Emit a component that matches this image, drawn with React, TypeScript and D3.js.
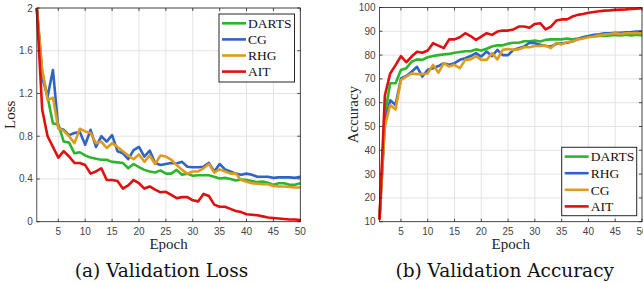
import { useRef, useEffect } from "react";
import * as d3 from "d3";

const epochs = d3.range(1, 51);

// validation loss (left panel)
const lossDARTS = [2.0, 1.4, 1.17, 0.92, 0.91, 0.75, 0.74, 0.64, 0.65, 0.62, 0.6, 0.59, 0.58, 0.58, 0.56, 0.555, 0.55, 0.5, 0.54, 0.51, 0.485, 0.47, 0.46, 0.48, 0.45, 0.45, 0.485, 0.44, 0.45, 0.43, 0.435, 0.435, 0.435, 0.42, 0.405, 0.41, 0.4, 0.385, 0.395, 0.39, 0.38, 0.37, 0.375, 0.365, 0.345, 0.36, 0.36, 0.345, 0.345, 0.36];
const lossCG = [2.0, 1.35, 1.17, 1.42, 0.875, 0.86, 0.81, 0.83, 0.84, 0.72, 0.86, 0.7, 0.8, 0.75, 0.81, 0.66, 0.64, 0.585, 0.67, 0.7, 0.61, 0.665, 0.55, 0.53, 0.54, 0.55, 0.545, 0.56, 0.515, 0.51, 0.51, 0.515, 0.55, 0.47, 0.54, 0.49, 0.47, 0.45, 0.44, 0.45, 0.44, 0.42, 0.42, 0.42, 0.41, 0.415, 0.415, 0.415, 0.41, 0.42];
const lossRHG = [2.0, 1.42, 1.14, 1.16, 0.875, 0.85, 0.8, 0.735, 0.87, 0.845, 0.83, 0.735, 0.75, 0.69, 0.735, 0.7, 0.66, 0.62, 0.585, 0.63, 0.56, 0.62, 0.54, 0.62, 0.61, 0.58, 0.53, 0.485, 0.45, 0.47, 0.47, 0.5, 0.54, 0.46, 0.49, 0.47, 0.45, 0.45, 0.39, 0.375, 0.36, 0.355, 0.35, 0.35, 0.335, 0.33, 0.33, 0.325, 0.32, 0.32];
const lossAIT = [2.0, 1.05, 0.8, 0.7, 0.6, 0.66, 0.61, 0.55, 0.55, 0.53, 0.45, 0.47, 0.5, 0.39, 0.39, 0.38, 0.31, 0.34, 0.39, 0.36, 0.31, 0.33, 0.3, 0.275, 0.28, 0.25, 0.22, 0.23, 0.23, 0.2, 0.19, 0.26, 0.24, 0.16, 0.14, 0.14, 0.12, 0.1, 0.09, 0.07, 0.065, 0.06, 0.05, 0.04, 0.035, 0.03, 0.025, 0.02, 0.02, 0.015];

// validation accuracy (right panel)
const accDARTS = [11, 55, 68.2, 68.2, 73.7, 74.5, 77.2, 78.2, 78, 79.1, 79.6, 80, 80.3, 80.5, 81, 81.3, 81.6, 81.6, 82.4, 81.9, 82.7, 83.6, 84.1, 84.1, 84.8, 85.2, 85.2, 85.8, 85.8, 86.1, 85.7, 86.4, 86.6, 86.6, 86.6, 87, 86.6, 87, 87.5, 87.8, 87.8, 88, 88, 88.3, 88.5, 88.3, 88.6, 88.3, 88.6, 88.3];
const accRHG = [11, 52, 61, 59, 70.2, 71.2, 73, 75.1, 71, 73.8, 74.5, 75.4, 76.6, 75.9, 76.6, 78, 78.7, 79.6, 80.8, 79.4, 81.5, 79.6, 82.2, 80, 80, 82.2, 82.9, 83.6, 85.2, 85, 84.3, 83.8, 83.6, 84.7, 85, 85.2, 85.7, 86.6, 87.5, 88, 88.5, 88.7, 89.2, 89.2, 89.4, 89.4, 89.6, 89.7, 89.9, 89.9];
const accCG = [11, 50, 59, 57.2, 69.5, 71, 72.3, 72, 72, 72.3, 75.9, 72.6, 76.6, 75.2, 75.9, 74.5, 78, 78.2, 79.6, 78, 78, 80.8, 78.2, 82.2, 82.6, 82.2, 82.4, 83.3, 83.3, 83.8, 83.8, 84.1, 82.9, 85.2, 84.5, 85.5, 85.7, 86.6, 87, 87.5, 87.8, 88.3, 88.6, 88.9, 89.2, 88.9, 89.2, 89.2, 89.3, 89.2];
const accAIT = [11, 63, 72.3, 75.8, 79.6, 77, 79.4, 81.4, 81, 81.9, 85, 84, 82.9, 86.6, 86.6, 87.5, 89.2, 88, 86.4, 87.8, 89.2, 88.5, 89.9, 90.3, 90.3, 90.8, 92, 92, 91.5, 93.1, 93.4, 90.8, 92, 94.5, 95, 95, 96.2, 96.9, 97.3, 97.8, 98.1, 98.4, 98.7, 98.8, 99, 99.1, 99.2, 99.4, 99.5, 99.7];

const xTicks = d3.range(5, 51, 5);
const lossTicks = [0, 0.4, 0.8, 1.2, 1.6, 2];
const accTicks = d3.range(10, 101, 10);

// line colours go by position in each panel (1st green, 2nd blue, 3rd orange, 4th red)
const GREEN = "#2db52d";
const BLUE = "#2f64c6";
const ORANGE = "#de9b1e";
const RED = "#e0100f";

const SERIF = "'Liberation Serif', 'Times New Roman', serif";
const SANS = "'Liberation Sans', Arial, sans-serif";
const CAPTION = "'DejaVu Serif', serif";

type Series = { name: string; values: number[]; color: string };

interface PanelOpts {
  left: number; right: number; top: number; bottom: number;
  yDomain: [number, number];
  yTicks: number[];
  yLabel: string;
  series: Series[];
  legendBox: { x: number; y: number; w: number; h: number; step: number };
  caption: string;
  captionX: number;
}

function drawPanel(svg: d3.Selection<SVGSVGElement, unknown, null, undefined>, o: PanelOpts) {
  const g = svg.append("g");
  const x = d3.scaleLinear().domain([1, 50]).range([o.left, o.right]);
  const y = d3.scaleLinear().domain(o.yDomain).range([o.bottom, o.top]);

  // grid
  g.append("g").selectAll("line").data(xTicks).join("line")
    .attr("x1", d => x(d)).attr("x2", d => x(d))
    .attr("y1", o.top).attr("y2", o.bottom)
    .attr("stroke", "#e3e3e3").attr("stroke-width", 1);
  g.append("g").selectAll("line").data(o.yTicks).join("line")
    .attr("x1", o.left).attr("x2", o.right)
    .attr("y1", d => y(d)).attr("y2", d => y(d))
    .attr("stroke", "#e3e3e3").attr("stroke-width", 1);

  // lines
  const line = d3.line<number>()
    .x((_, i) => x(epochs[i]))
    .y(d => y(d));
  o.series.forEach(s => {
    g.append("path")
      .datum(s.values)
      .attr("d", line)
      .attr("fill", "none")
      .attr("stroke", s.color)
      .attr("stroke-width", 2.6)
      .attr("stroke-linejoin", "round");
  });

  // box
  g.append("rect")
    .attr("x", o.left).attr("y", o.top)
    .attr("width", o.right - o.left).attr("height", o.bottom - o.top)
    .attr("fill", "none").attr("stroke", "#262626").attr("stroke-width", 0.8);

  // inward ticks on all sides
  const tl = 3;
  const ticks = g.append("g").attr("stroke", "#262626").attr("stroke-width", 0.8);
  xTicks.forEach(t => {
    ticks.append("line").attr("x1", x(t)).attr("x2", x(t)).attr("y1", o.bottom).attr("y2", o.bottom - tl);
    ticks.append("line").attr("x1", x(t)).attr("x2", x(t)).attr("y1", o.top).attr("y2", o.top + tl);
  });
  o.yTicks.forEach(t => {
    ticks.append("line").attr("x1", o.left).attr("x2", o.left + tl).attr("y1", y(t)).attr("y2", y(t));
    ticks.append("line").attr("x1", o.right).attr("x2", o.right - tl).attr("y1", y(t)).attr("y2", y(t));
  });

  // tick labels
  const fmt = d3.format("~g");
  g.append("g").selectAll("text").data(xTicks).join("text")
    .attr("x", d => x(d)).attr("y", o.bottom + 12.8)
    .attr("text-anchor", "middle")
    .attr("font-family", SANS).attr("font-size", 10).attr("fill", "#444")
    .text(d => fmt(d));
  g.append("g").selectAll("text").data(o.yTicks).join("text")
    .attr("x", o.left - 4).attr("y", d => y(d) + 3.5)
    .attr("text-anchor", "end")
    .attr("font-family", SANS).attr("font-size", 10).attr("fill", "#444")
    .text(d => fmt(d));

  // axis labels
  g.append("text")
    .attr("x", (o.left + o.right) / 2).attr("y", o.bottom + 27)
    .attr("text-anchor", "middle")
    .attr("font-family", SERIF).attr("font-size", 15).attr("fill", "#222")
    .text("Epoch");
  const cy = (o.top + o.bottom) / 2;
  const lx = o.left - 22;
  g.append("text")
    .attr("transform", `translate(${lx},${cy}) rotate(-90)`)
    .attr("text-anchor", "middle")
    .attr("font-family", SERIF).attr("font-size", 15).attr("fill", "#222")
    .text(o.yLabel);

  // legend
  const lb = o.legendBox;
  const leg = g.append("g");
  leg.append("rect")
    .attr("x", lb.x).attr("y", lb.y).attr("width", lb.w).attr("height", lb.h)
    .attr("fill", "#fff").attr("stroke", "#262626").attr("stroke-width", 1);
  o.series.forEach((s, i) => {
    const ry = lb.y + 9.3 + i * lb.step;
    leg.append("line")
      .attr("x1", lb.x + 3).attr("x2", lb.x + 27)
      .attr("y1", ry).attr("y2", ry)
      .attr("stroke", s.color).attr("stroke-width", 2.6);
    leg.append("text")
      .attr("x", lb.x + 29).attr("y", ry + 4.8)
      .attr("font-family", SERIF).attr("font-size", 13.5).attr("fill", "#111")
      .text(s.name);
  });

  // caption
  g.append("text")
    .attr("x", o.captionX).attr("y", 276.5)
    .attr("text-anchor", "middle")
    .attr("font-family", CAPTION).attr("font-size", 18.5).attr("fill", "#111")
    .text(o.caption);
}

export default function App() {
  const ref = useRef<SVGSVGElement>(null);

  useEffect(() => {
    if (!ref.current) return;
    const svg = d3.select(ref.current);
    svg.selectAll("*").remove();

    const lossSeries: Series[] = [
      { name: "DARTS", values: lossDARTS, color: GREEN },
      { name: "CG", values: lossCG, color: BLUE },
      { name: "RHG", values: lossRHG, color: ORANGE },
      { name: "AIT", values: lossAIT, color: RED },
    ];
    const accSeries: Series[] = [
      { name: "DARTS", values: accDARTS, color: GREEN },
      { name: "RHG", values: accRHG, color: BLUE },
      { name: "CG", values: accCG, color: ORANGE },
      { name: "AIT", values: accAIT, color: RED },
    ];

    drawPanel(svg, {
      left: 36.8, right: 300.3, top: 8, bottom: 221.7,
      yDomain: [0, 2], yTicks: lossTicks, yLabel: "Loss",
      series: lossSeries,
      legendBox: { x: 219, y: 14, w: 75.5, h: 68, step: 16.1 },
      caption: "(a) Validation Loss", captionX: 161.5,
    });
    drawPanel(svg, {
      left: 379.5, right: 642, top: 7.5, bottom: 221.7,
      yDomain: [10, 100], yTicks: accTicks, yLabel: "Accuracy",
      series: accSeries,
      legendBox: { x: 561.7, y: 147.3, w: 75, h: 68.4, step: 16.6 },
      caption: "(b) Validation Accuracy", captionX: 504.7,
    });
  }, []);

  return (
    <svg
      ref={ref}
      width={643}
      height={283}
      style={{ position: "absolute", left: 0, top: 0, background: "#fff" }}
    />
  );
}
